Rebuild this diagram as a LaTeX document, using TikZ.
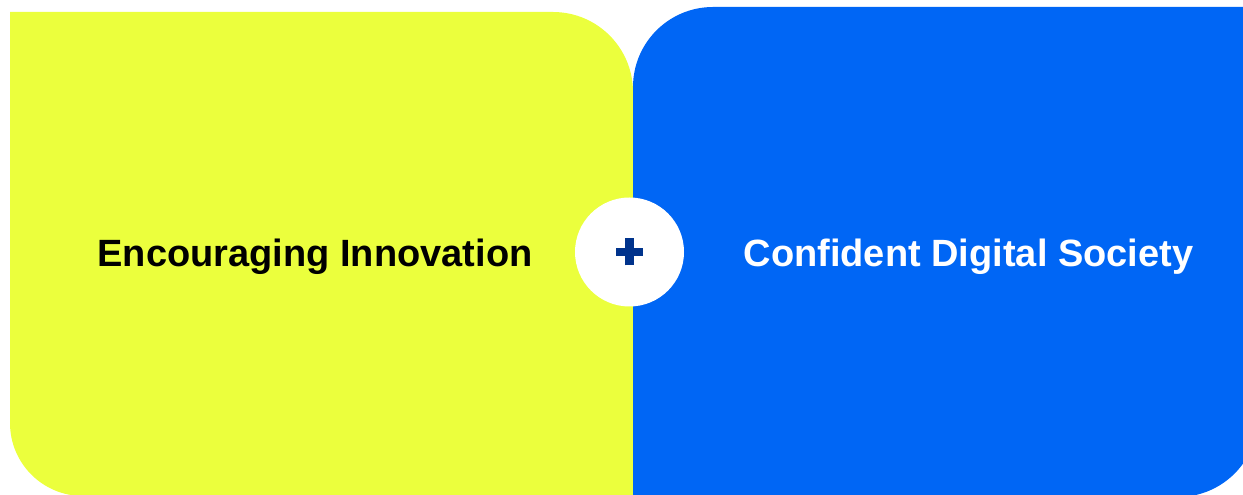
\documentclass[tikz,border=0pt]{standalone}
\usepackage{fontspec}
\setmainfont{Liberation Sans}
\usepackage{tikz}
\usetikzlibrary{positioning}
\usetikzlibrary{calc}

\definecolor{lime}{RGB}{235,255,61}
\definecolor{brightblue}{RGB}{0,102,245}
\definecolor{navy}{RGB}{0,51,140}

\begin{document}
\begin{tikzpicture}[x=1pt, y=1pt, lbl/.style={font=\fontsize{38}{40}\selectfont\bfseries, anchor=base}, joint/.style={circle, fill=white, minimum size=109pt, inner sep=0pt}, plusbar/.style={navy, line width=8.5pt}]
			\useasboundingbox (0,0) rectangle (1243,495);
			\clip (0,0) rectangle (1243,495);
			% the two panels
			\fill[lime] (10,483) -- (553,483) arc[start angle=90, end angle=0, radius=80] -- (633,-1) -- (83,-1) arc[start angle=270, end angle=180, radius=73] -- cycle;
			\fill[brightblue] (633,-2) -- (633,408) arc[start angle=180, end angle=90, radius=80] -- (1258,488) -- (1258,78) arc[start angle=0, end angle=-90, radius=80] -- cycle;
			\node[lbl] (innovation) at (315,228) {Encouraging Innovation};
			\node[lbl, white] (society) at (968.5,228) {Confident Digital Society};
			\node[joint] (join) at (629.5,243) {};
			\draw[plusbar] ($(join)+(-13.5,0)$) -- ($(join)+(13.5,0)$);
			\draw[plusbar] ($(join)+(0,-13.5)$) -- ($(join)+(0,13.5)$);
		\end{tikzpicture}
\end{document}
